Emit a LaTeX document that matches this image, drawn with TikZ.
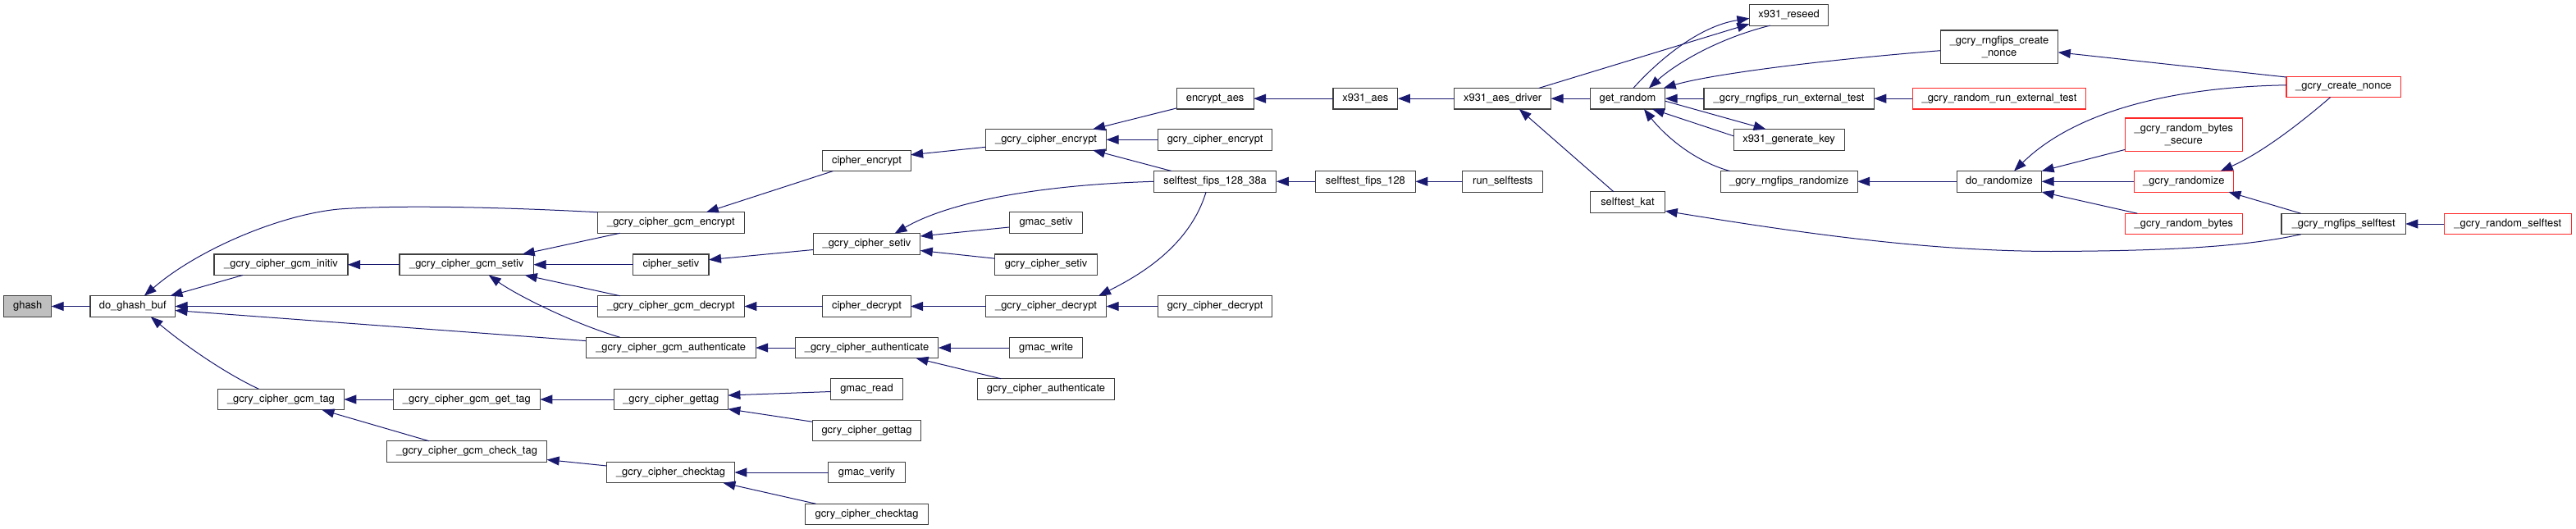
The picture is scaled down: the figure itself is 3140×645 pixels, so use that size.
\documentclass[tikz,border=0pt]{standalone}
\usepackage{fontspec}
\setmainfont{TeX Gyre Heros}
\usetikzlibrary{arrows.meta}
\definecolor{edgecol}{RGB}{25,25,112}
\definecolor{ghashfill}{RGB}{191,191,191}
\definecolor{boxline}{RGB}{64,64,64}
\definecolor{redline}{RGB}{255,40,40}
\begin{document}
\begin{tikzpicture}[x=1pt,y=-1pt,
  box/.style={draw=boxline, line width=1.1pt, inner sep=0pt, outer sep=0pt,
    minimum height=25.5pt, font=\fontsize{12.9}{15.2}\selectfont, text=black},
  redbox/.style={box, draw=redline},
  two/.style={minimum height=40.4pt, align=center},
  edge/.style={draw=edgecol, line width=1pt, -{Triangle[length=15pt,width=11pt]}},
]
\useasboundingbox (0,0) rectangle (3140,645);

% column 0-1
\node[box, fill=ghashfill, minimum width=57.9pt] (ghash) at (33.75,373.5) {ghash};
\node[box, minimum width=103.5pt] (dgb) at (161.75,373.5) {do\_ghash\_buf};
\node[box, minimum width=163pt] (gcminit) at (342.5,322.7) {\_gcry\_cipher\_gcm\_initiv};
\node[box, minimum width=153.9pt] (gcmtag) at (342.45,487) {\_gcry\_cipher\_gcm\_tag};
% column 2
\node[box, minimum width=163.5pt] (gcmsetiv) at (568.75,322.7) {\_gcry\_cipher\_gcm\_setiv};
\node[box, minimum width=179.1pt] (gcmgettag) at (568.85,487) {\_gcry\_cipher\_gcm\_get\_tag};
\node[box, minimum width=195.3pt] (gcmchk) at (569.05,550.5) {\_gcry\_cipher\_gcm\_check\_tag};
% column 3
\node[box, minimum width=179.1pt] (gcmenc) at (817.85,271.5) {\_gcry\_cipher\_gcm\_encrypt};
\node[box, minimum width=92.3pt] (csetiv) at (817.85,322.7) {cipher\_setiv};
\node[box, minimum width=179.1pt] (gcmdec) at (817.85,373.5) {\_gcry\_cipher\_gcm\_decrypt};
\node[box, minimum width=207pt] (gcmauth) at (817.7,424) {\_gcry\_cipher\_gcm\_authenticate};
\node[box, minimum width=139.1pt] (ugettag) at (817.85,487) {\_gcry\_cipher\_gettag};
\node[box, minimum width=155.7pt] (uchecktag) at (817.55,576) {\_gcry\_cipher\_checktag};
% column 4
\node[box, minimum width=107.2pt] (cenc) at (1056.5,195.8) {cipher\_encrypt};
\node[box, minimum width=130.6pt] (usetiv) at (1056.5,297.5) {\_gcry\_cipher\_setiv};
\node[box, minimum width=107.2pt] (cdec) at (1056.5,373.5) {cipher\_decrypt};
\node[box, minimum width=174.7pt] (uauth) at (1056.5,424) {\_gcry\_cipher\_authenticate};
\node[box, minimum width=87.3pt] (gmacread) at (1056.5,474.5) {gmac\_read};
\node[box, minimum width=132.3pt] (gettag) at (1056.5,525) {gcry\_cipher\_gettag};
\node[box, minimum width=93.7pt] (gmacverify) at (1056.5,576) {gmac\_verify};
\node[box, minimum width=149.5pt] (checktag) at (1056.5,627) {gcry\_cipher\_checktag};
% column 5
\node[box, minimum width=147.1pt] (uenc) at (1275.05,170.3) {\_gcry\_cipher\_encrypt};
\node[box, minimum width=89.5pt] (gmacsetiv) at (1275.05,271.5) {gmac\_setiv};
\node[box, minimum width=124.3pt] (gsetiv) at (1275.05,322.7) {gcry\_cipher\_setiv};
\node[box, minimum width=147.1pt] (udec) at (1275.05,373.5) {\_gcry\_cipher\_decrypt};
\node[box, minimum width=89.5pt] (gmacwrite) at (1275.05,424) {gmac\_write};
\node[box, minimum width=167.1pt] (gauth) at (1275.05,474.5) {gcry\_cipher\_authenticate};
% column 6
\node[box, minimum width=94pt] (encaes) at (1481.1,120.2) {encrypt\_aes};
\node[box, minimum width=139.5pt] (genc) at (1481.1,170.3) {gcry\_cipher\_encrypt};
\node[box, minimum width=149.5pt] (stA) at (1481.1,221.3) {selftest\_fips\_128\_38a};
\node[box, minimum width=139.5pt] (gdec) at (1481.1,373.5) {gcry\_cipher\_decrypt};
% column 7-9
\node[box, minimum width=78.9pt] (xaes) at (1664.4,120.2) {x931\_aes};
\node[box, minimum width=121.9pt] (stB) at (1664.4,221.3) {selftest\_fips\_128};
\node[box, minimum width=117.8pt] (xdrv) at (1831.7,120.2) {x931\_aes\_driver};
\node[box, minimum width=98.2pt] (runst) at (1831.8,221.3) {run\_selftests};
\node[box, minimum width=91.6pt] (getrnd) at (1983.9,120.2) {get\_random};
\node[box, minimum width=91.6pt] (stkat) at (1983.9,246.5) {selftest\_kat};
% column 10
\node[box, minimum width=96.4pt] (xreseed) at (2180.6,18.4) {x931\_reseed};
\node[box, minimum width=207.3pt] (rngext) at (2180.6,120.2) {\_gcry\_rngfips\_run\_external\_test};
\node[box, minimum width=135.1pt] (xgenkey) at (2180.6,170.3) {x931\_generate\_key};
\node[box, minimum width=167.1pt] (rngrand) at (2180.6,221.3) {\_gcry\_rngfips\_randomize};
% column 11
\node[box, two, minimum width=143.6pt] (rngnonce) at (2437,57.2) {\_gcry\_rngfips\_create\\\_nonce};
\node[redbox, minimum width=211.1pt] (rndext) at (2437,120.2) {\_gcry\_random\_run\_external\_test};
\node[box, minimum width=103.3pt] (dorand) at (2437,221.3) {do\_randomize};
% column 12
\node[redbox, two, minimum width=142.9pt] (bsec) at (2661.8,164.2) {\_gcry\_random\_bytes\\\_secure};
\node[redbox, minimum width=121.3pt] (urand) at (2661.8,221.3) {\_gcry\_randomize};
\node[redbox, minimum width=142.9pt] (rbytes) at (2661.8,273) {\_gcry\_random\_bytes};
% column 13-14
\node[redbox, minimum width=139.3pt] (cnonce) at (2856.65,105.8) {\_gcry\_create\_nonce};
\node[box, minimum width=151.3pt] (rngst) at (2856.65,273) {\_gcry\_rngfips\_selftest};
\node[redbox, minimum width=155pt] (rndst) at (3056.8,273) {\_gcry\_random\_selftest};

% edges (caller -> callee, tip at callee)
\draw[edge] (dgb.west) -- (ghash.east);
\draw[edge] (gcmenc.north west) .. controls (600,252) and (480,250) .. (413,255)
  .. controls (340,262) and (240,305) .. ([xshift=14pt]dgb.north);
\draw[edge] ([xshift=35pt]gcminit.south west) -- ([xshift=-6pt]dgb.north east);
\draw[edge] (gcmdec.west) -- (dgb.east);
\draw[edge] ([yshift=8.4pt]gcmauth.west) -- ([yshift=-5pt]dgb.east);
\draw[edge] ([xshift=-27pt]gcmtag.north) .. controls (280,458) and (230,425) .. ([xshift=22pt]dgb.south);
\draw[edge] (gcmsetiv.west) -- (gcminit.east);
\draw[edge] (gcmgettag.west) -- (gcmtag.east);
\draw[edge] ([xshift=-46pt]gcmchk.north) -- ([xshift=50pt]gcmtag.south);
\draw[edge] ([xshift=-62pt]gcmenc.south) -- ([xshift=68pt]gcmsetiv.north);
\draw[edge] (csetiv.west) -- (gcmsetiv.east);
\draw[edge] ([xshift=-62pt]gcmdec.north) -- ([xshift=71pt]gcmsetiv.south);
\draw[edge] ([xshift=-62pt]gcmauth.north) .. controls (700,395) and (630,360) .. ([xshift=27pt]gcmsetiv.south);
\draw[edge] ([xshift=-41pt]cenc.south) -- ([xshift=43pt]gcmenc.north);
\draw[edge] ([yshift=-7pt]usetiv.west) -- ([yshift=6pt]csetiv.east);
\draw[edge] (cdec.west) -- (gcmdec.east);
\draw[edge] (uauth.west) -- (gcmauth.east);
\draw[edge] ([yshift=-3pt]gmacread.west) -- ([yshift=5pt]ugettag.east);
\draw[edge] ([yshift=-2pt]gettag.north west) -- ([yshift=1pt]ugettag.south east);
\draw[edge] (ugettag.west) -- (gcmgettag.east);
\draw[edge] ([yshift=8pt]uchecktag.west) -- ([yshift=-10pt]gcmchk.east);
\draw[edge] (gmacverify.west) -- (uchecktag.east);
\draw[edge] ([xshift=-62pt]checktag.north) -- ([xshift=-14pt]uchecktag.south east);
\draw[edge] ([yshift=-9pt]uenc.west) -- ([yshift=7pt]cenc.east);
\draw[edge] ([yshift=1pt]encaes.south west) -- ([xshift=57pt]uenc.north);
\draw[edge] (genc.west) -- (uenc.east);
\draw[edge] ([xshift=-53pt]stA.north) -- ([xshift=57pt]uenc.south);
\draw[edge] (stA.west) .. controls (1250,226) and (1150,250) .. ([xshift=34pt]usetiv.north);
\draw[edge] ([yshift=-5.5pt]gmacsetiv.west) -- ([yshift=9.5pt]usetiv.east);
\draw[edge] ([yshift=7.5pt]gsetiv.west) -- ([yshift=-8pt]usetiv.east);
\draw[edge] (udec.west) -- (cdec.east);
\draw[edge] ([xshift=-11pt]stA.south) .. controls (1450,300) and (1390,335) .. ([xshift=64pt]udec.north);
\draw[edge] (gdec.west) -- (udec.east);
\draw[edge] (gmacwrite.west) -- (uauth.east);
\draw[edge] ([xshift=-55pt]gauth.north) -- ([xshift=60pt]uauth.south);
\draw[edge] (xaes.west) -- (encaes.east);
\draw[edge] (stB.west) -- (stA.east);
\draw[edge] (runst.west) -- (stB.east);
\draw[edge] (xdrv.west) -- (xaes.east);
\draw[edge] (getrnd.west) -- (xdrv.east);
\draw[edge] ([xshift=-17pt]stkat.north) -- ([xshift=20pt]xdrv.south);
\draw[edge] ([xshift=44pt]xdrv.north) -- ([yshift=2pt]xreseed.south west);
\draw[edge] ([xshift=7pt]getrnd.north) .. controls (2020,75) and (2070,32) .. ([yshift=-4pt]xreseed.west);
\draw[edge] ([xshift=-23pt]xreseed.south) .. controls (2090,48) and (2040,80) .. ([xshift=26pt]getrnd.north);
\draw[edge] ([yshift=-4.5pt]rngnonce.west) .. controls (2200,75) and (2080,92) .. ([xshift=-2pt]getrnd.north east);
\draw[edge] (rngext.west) -- (getrnd.east);
\draw[edge] ([yshift=-3pt]getrnd.east) -- ([xshift=-28pt]xgenkey.north);
\draw[edge] ([yshift=4.5pt]xgenkey.west) -- ([xshift=30pt]getrnd.south);
\draw[edge] ([xshift=-72pt]rngrand.north) .. controls (2060,195) and (2025,160) .. ([xshift=20pt]getrnd.south);
\draw[edge] ([xshift=-52pt]rngst.south) .. controls (2740,300) and (2650,306) .. (2500,306.5)
  .. controls (2350,306) and (2200,285) .. ([yshift=-10.7pt]stkat.east);
\draw[edge] (rndext.west) -- (rngext.east);
\draw[edge] (dorand.west) -- (rngrand.east);
\draw[edge] ([yshift=2pt]bsec.south west) -- (dorand.north east);
\draw[edge] (urand.west) -- (dorand.east);
\draw[edge] ([xshift=15pt]rbytes.north west) -- (dorand.south east);
\draw[edge] ([yshift=2pt]cnonce.west) .. controls (2650,106) and (2530,135) .. ([xshift=18pt]dorand.north);
\draw[edge] ([yshift=-1pt]cnonce.north west) -- ([yshift=-6.6pt]rngnonce.east);
\draw[edge] ([xshift=-16pt]cnonce.south) .. controls (2810,145) and (2760,185) .. ([xshift=45pt]urand.north);
\draw[edge] ([xshift=-52pt]rngst.north) -- ([xshift=-6pt]urand.south east);
\draw[edge] (rndst.west) -- (rngst.east);
\end{tikzpicture}
\end{document}
